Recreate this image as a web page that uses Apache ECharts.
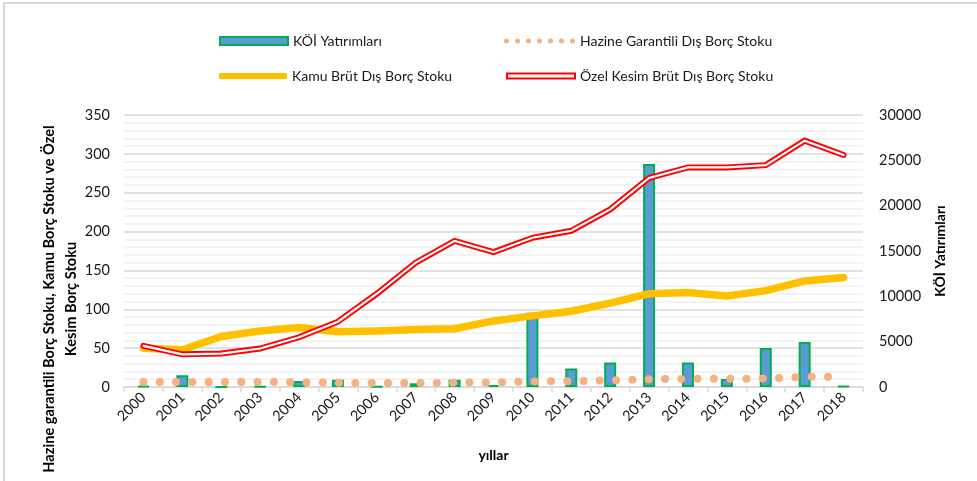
<!DOCTYPE html>
<html>
<head>
<meta charset="utf-8">
<script src="https://cdn.jsdelivr.net/npm/echarts@6/dist/echarts.min.js"></script>
<style>
  html, body { margin: 0; padding: 0; background: #fff; }
  #chart { width: 977px; height: 481px; }
</style>
</head>
<body>
<div id="chart"></div>
<script>
// veri
var yillar = ['2000', '2001', '2002', '2003', '2004', '2005', '2006', '2007', '2008', '2009',
  '2010', '2011', '2012', '2013', '2014', '2015', '2016', '2017', '2018']
var koiYatirimlari = [100, 1290, 0, 50, 660, 810, 30, 410, 810, 220,
  8200, 2030, 2690, 24600, 2690, 890, 4310, 4970, 100]
var hazineGarantili = [6.5, 6.5, 6.5, 6.5, 6, 5.5, 5, 5, 5.5, 6,
  7, 7.5, 8.5, 10, 10.5, 10.5, 11, 13, 13.5]
var kamuBrut = [50, 48, 65, 72, 76.5, 71, 72, 74, 75, 85,
  91.5, 97.5, 108, 120, 121.5, 117, 124, 136.5, 141]
var ozelKesim = [53, 42, 43, 49.5, 64, 84, 120, 160, 188, 173.5,
  192, 201, 228.5, 269, 282.5, 282.5, 285.5, 317, 298.5]
var solEksenTicks = [0, 350, 50]
var sagEksenTicks = [0, 30000, 5000]

var font = 'Lato, "Open Sans", sans-serif'
var yaziRengi = '#1a1a1a'

// legend icon for the dotted series: a row of small circles
var dotPath = 'path://'
for (var i = 0; i < 7; i++) {
  var cx = 2.5 + i * 11
  dotPath += 'M' + (cx - 2.5) + ',2.5 a2.5,2.5 0 1,0 5,0 a2.5,2.5 0 1,0 -5,0 '
}

var chart = echarts.init(document.getElementById('chart'), null, { renderer: 'canvas' })

function legendBox (name, left, top, icon, style, w, h) {
  return {
    left: left,
    top: top,
    itemWidth: w,
    itemHeight: h,
    itemGap: 0,
    selectedMode: false,
    textStyle: { fontFamily: font, fontSize: 14, color: yaziRengi },
    data: [{ name: name, icon: icon, itemStyle: style }]
  }
}

chart.setOption({
  animation: false,
  textStyle: { fontFamily: font },
  grid: { left: 124, right: 114, top: 115, bottom: 94, containLabel: false },
  legend: [
    legendBox('KÖİ Yatırımları', 214, 29, 'rect', { color: '#5b9bd5', borderColor: '#00b050', borderWidth: 2 }, 68, 8),
    legendBox('Kamu Brüt Dış Borç Stoku', 214, 64, 'roundRect', { color: '#ffc000', borderWidth: 0 }, 68, 6),
    legendBox('Hazine Garantili Dış Borç Stoku', 499, 29, dotPath, { color: '#f4b183', borderWidth: 0 }, 71, 5),
    legendBox('Özel Kesim Brüt Dış Borç Stoku', 501, 64, 'rect', { color: '#ffffff', borderColor: '#ff0000', borderWidth: 2 }, 68, 5)
  ],
  graphic: [
    {
      type: 'rect',
      shape: { x: 4, y: 3, width: 1000, height: 500 },
      style: { fill: 'none', stroke: '#d9d9d9', lineWidth: 2 },
      silent: true
    },
    {
      type: 'text',
      x: 60,
      y: 299,
      rotation: Math.PI / 2,
      style: {
        text: 'Hazine garantili Borç Stoku, Kamu Borç Stoku ve Özel\nKesim Borç Stoku',
        font: 'bold 14.6px ' + font,
        fill: '#000',
        align: 'center',
        verticalAlign: 'middle',
        lineHeight: 22
      }
    }
  ],
  xAxis: {
    type: 'category',
    data: yillar,
    boundaryGap: true,
    name: 'yıllar',
    nameLocation: 'middle',
    nameGap: 61,
    nameTextStyle: { fontFamily: font, fontSize: 14, fontWeight: 'bold', color: '#000' },
    axisLine: { lineStyle: { color: '#d9d9d9', width: 1.5 } },
    axisTick: { show: true, length: 5, lineStyle: { color: '#d9d9d9', width: 1.5 } },
    axisLabel: { rotate: 45, margin: 8, fontSize: 14.5, color: yaziRengi, fontFamily: font, interval: 0 }
  },
  yAxis: [
    {
      type: 'value',
      min: solEksenTicks[0],
      max: solEksenTicks[1],
      interval: solEksenTicks[2],
      axisLine: { show: false },
      axisTick: { show: false },
      axisLabel: { fontSize: 14.5, color: yaziRengi, margin: 14, fontFamily: font },
      splitLine: { lineStyle: { color: '#d9d9d9', width: 1.5 } },
      minorTick: { show: false, splitNumber: 5 },
      minorSplitLine: { show: true, lineStyle: { color: '#f0f0f0', width: 1.5 } }
    },
    {
      type: 'value',
      min: sagEksenTicks[0],
      max: sagEksenTicks[1],
      interval: sagEksenTicks[2],
      name: 'KÖİ Yatırımları',
      nameLocation: 'middle',
      nameRotate: 90,
      nameGap: 70,
      nameTextStyle: { fontFamily: font, fontSize: 14, fontWeight: 'bold', color: '#000' },
      axisLine: { show: false },
      axisTick: { show: false },
      axisLabel: {
        fontSize: 14.5,
        color: yaziRengi,
        margin: 16,
        fontFamily: font,
        formatter: function (v) { return String(v) }
      },
      splitLine: { show: false }
    }
  ],
  series: [
    {
      name: 'KÖİ Yatırımları',
      type: 'bar',
      yAxisIndex: 1,
      barWidth: 12,
      data: koiYatirimlari,
      itemStyle: { color: '#5b9bd5', borderColor: '#00b050', borderWidth: 2 }
    },
    {
      name: 'Hazine Garantili Dış Borç Stoku',
      type: 'line',
      data: hazineGarantili,
      showSymbol: false,
      symbol: 'none',
      color: '#f4b183',
      lineStyle: { color: '#f4b183', width: 8, type: [0, 16.3], cap: 'round' }
    },
    {
      name: 'Kamu Brüt Dış Borç Stoku',
      type: 'line',
      data: kamuBrut,
      showSymbol: false,
      symbol: 'none',
      color: '#ffc000',
      lineStyle: { color: '#ffc000', width: 7.5, cap: 'round', join: 'round' }
    },
    {
      name: 'Özel Kesim Brüt Dış Borç Stoku',
      type: 'line',
      data: ozelKesim,
      showSymbol: false,
      symbol: 'none',
      color: '#ff0000',
      lineStyle: { color: '#ff0000', width: 6, cap: 'round', join: 'miter' }
    },
    {
      // inner white stroke makes the double line
      name: 'ozel_ic',
      type: 'line',
      data: ozelKesim,
      showSymbol: false,
      symbol: 'none',
      color: '#ffffff',
      lineStyle: { color: '#ffffff', width: 2.2, cap: 'round', join: 'miter' }
    }
  ]
})
</script>
</body>
</html>
